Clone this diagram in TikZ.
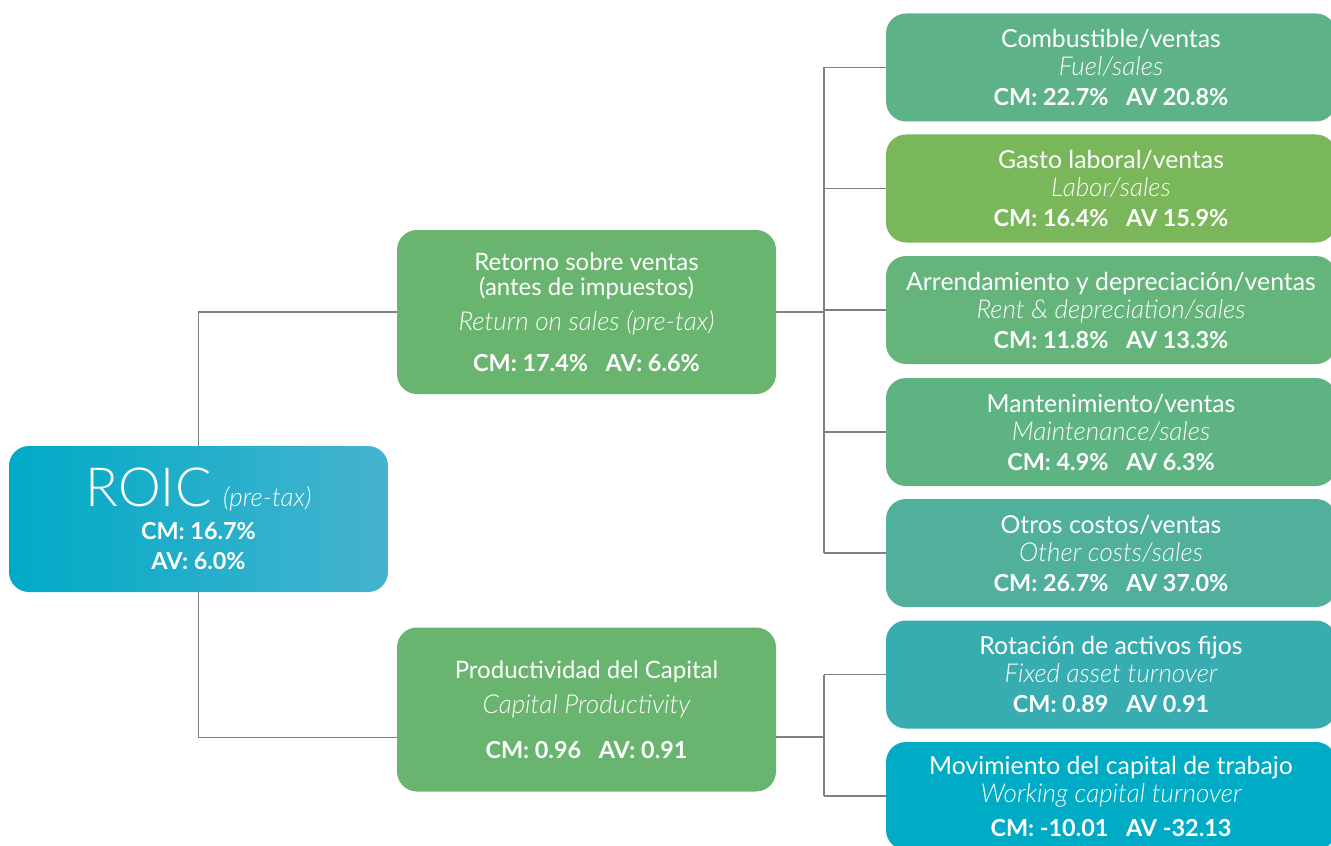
\documentclass[tikz,border=0pt]{standalone}
\usepackage{fontspec}
\setmainfont{Lato}
\newfontfamily\thinfont{Lato Light}[ItalicFont={Lato Light Italic}]
\usepackage{xcolor}
\usepackage{tikz}
\usetikzlibrary{positioning,calc}
\definecolor{rcroil}{HTML}{00AAC6}
\definecolor{rcroir}{HTML}{46B3CF}
\definecolor{rcmidgreen}{HTML}{69B56F}
\definecolor{rcfuel}{HTML}{5DB387}
\definecolor{rclabor}{HTML}{79B75A}
\definecolor{rcrent}{HTML}{64B47B}
\definecolor{rcmaint}{HTML}{5EB383}
\definecolor{rcother}{HTML}{50B09B}
\definecolor{rcfixed}{HTML}{37ADB1}
\definecolor{rcwork}{HTML}{00ACC5}
\definecolor{rcwire}{HTML}{808080}
\tikzset{
  rcroot/.style={
    rectangle, rounded corners=10pt, draw=none, left color=rcroil, right color=rcroir,
    minimum width=189.5pt, minimum height=73pt, inner sep=0pt,
    text=white, align=center, font=\fontsize{11.7}{15}\selectfont
  },
  rcmid/.style={
    rectangle, rounded corners=10pt, draw=none, fill=rcmidgreen,
    minimum width=189.5pt, minimum height=82pt, inner sep=0pt,
    text=white, align=center, font=\fontsize{12}{12.5}\selectfont
  },
  rcleaf/.style={
    rectangle, rounded corners=10pt, draw=none, fill=#1,
    minimum width=225pt, minimum height=54pt, inner sep=0pt,
    text=white, align=center, font=\fontsize{12.4}{14}\selectfont
  },
  rcwire/.style={draw=rcwire, line width=0.6pt}
}
\newcommand{\rcital}[1]{{\thinfont\itshape\fontsize{13}{14}\selectfont #1}}
\newcommand{\rcvals}[2]{{\bfseries\fontsize{11.7}{14}\selectfont #1\hspace{0.75em}#2}}

\begin{document}
\begin{tikzpicture}[x=0.5pt,y=-0.5pt]
  \useasboundingbox (0,0) rectangle (1331,845);
  % root
  \node[rcroot] (roic) at (198.5,519) {{\thinfont\fontsize{27}{27}\selectfont ROIC}\enspace\rcital{(pre-tax)}\\[1.5pt]
    {\bfseries CM: 16.7\%}\\ {\bfseries AV: 6.0\%}};
  % middle level
  \node[rcmid] (ret) at (586.5,312) {Retorno sobre ventas\\(antes de impuestos)\\[5pt]
    \rcital{Return on sales (pre-tax)}\\[8pt] \rcvals{CM: 17.4\%}{AV: 6.6\%}};
  \node[rcmid] (prod) at (586.5,709.5) {Productividad del Capital\\[5pt]
    \rcital{Capital Productivity}\\[10pt] \rcvals{CM: 0.96}{AV: 0.91}};
  % leaves
  \node[rcleaf=rcfuel] (fuel) at (1111,67.5) {Combustible/ventas\\ \rcital{Fuel/sales}\\[1pt] \rcvals{CM: 22.7\%}{AV 20.8\%}};
  \node[rcleaf=rclabor] (labor) at (1111,188.5) {Gasto laboral/ventas\\ \rcital{Labor/sales}\\[1pt] \rcvals{CM: 16.4\%}{AV 15.9\%}};
  \node[rcleaf=rcrent] (rent) at (1111,310) {Arrendamiento y depreciación/ventas\\ \rcital{Rent \& depreciation/sales}\\[1pt] \rcvals{CM: 11.8\%}{AV 13.3\%}};
  \node[rcleaf=rcmaint] (maint) at (1111,432) {Mantenimiento/ventas\\ \rcital{Maintenance/sales}\\[1pt] \rcvals{CM: 4.9\%}{AV 6.3\%}};
  \node[rcleaf=rcother] (other) at (1111,553) {Otros costos/ventas\\ \rcital{Other costs/sales}\\[1pt] \rcvals{CM: 26.7\%}{AV 37.0\%}};
  \node[rcleaf=rcfixed] (fixed) at (1111,674.5) {Rotación de activos fijos\\ \rcital{Fixed asset turnover}\\[1pt] \rcvals{CM: 0.89}{AV 0.91}};
  \node[rcleaf=rcwork] (work) at (1111,796) {Movimiento del capital de trabajo\\ \rcital{Working capital turnover}\\[3pt] \rcvals{CM: -10.01}{AV -32.13}};
  % wires
  \coordinate (busa) at (824,312);
  \coordinate (busb) at (824,737);
  \draw[rcwire] (roic.north) |- (ret.west);
  \draw[rcwire] (roic.south) |- ([yshift=-14pt]prod.west);
  \draw[rcwire] (ret.east) -- (busa);
  \draw[rcwire] (busa |- fuel.west) -- (busa |- other.west);
  \foreach \leaf in {fuel,labor,rent,maint,other}
    \draw[rcwire] (busa |- \leaf.west) -- (\leaf.west);
  \draw[rcwire] ([yshift=-13.75pt]prod.east) -- (busb);
  \draw[rcwire] (busb |- fixed.west) -- (busb |- work.west);
  \foreach \leaf in {fixed,work}
    \draw[rcwire] (busb |- \leaf.west) -- (\leaf.west);
\end{tikzpicture}
\end{document}
